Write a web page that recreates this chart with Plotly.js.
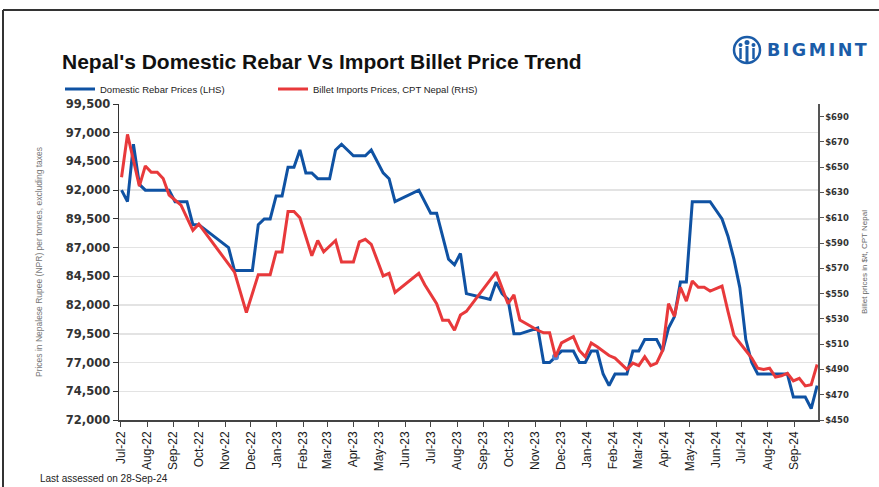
<!DOCTYPE html>
<html>
<head>
<meta charset="utf-8">
<script src="https://cdn.plot.ly/plotly-3.0.1.min.js"></script>
<style>
  html, body { margin: 0; padding: 0; background: #fff; }
  #chart { width: 879px; height: 487px; }
</style>
</head>
<body>
<div id="chart"></div>
<script>
// ---- Data (weekly assessments) ----
const rebarDates = [
  '2022-07-02','2022-07-09','2022-07-16','2022-07-23','2022-07-30','2022-08-27','2022-09-03','2022-09-17','2022-09-24','2022-10-01',
  '2022-11-05','2022-11-12','2022-12-03','2022-12-10','2022-12-17','2022-12-24','2022-12-31','2023-01-07','2023-01-14','2023-01-21',
  '2023-01-28','2023-02-04','2023-02-11','2023-02-18','2023-03-04','2023-03-11','2023-03-18','2023-04-01','2023-04-15','2023-04-22',
  '2023-05-06','2023-05-13','2023-05-20','2023-06-17','2023-07-01','2023-07-08','2023-07-22','2023-07-29','2023-08-05','2023-08-12',
  '2023-08-26','2023-09-09','2023-09-16','2023-09-23','2023-09-30','2023-10-07','2023-10-14','2023-11-04','2023-11-11','2023-11-18',
  '2023-11-25','2023-12-02','2023-12-16','2023-12-23','2023-12-30','2024-01-06','2024-01-13','2024-01-20','2024-01-27','2024-02-03',
  '2024-02-17','2024-02-24','2024-03-02','2024-03-09','2024-03-23','2024-03-30','2024-04-06','2024-04-13','2024-04-20','2024-04-27',
  '2024-05-04','2024-05-25','2024-06-08','2024-06-15','2024-06-22','2024-06-29','2024-07-06','2024-07-13','2024-07-20','2024-08-24',
  '2024-08-31','2024-09-14','2024-09-21','2024-09-28'
];
const rebarPrices = [
  92000,91000,96000,92500,92000,92000,91000,91000,89000,89000,
  87000,85000,85000,89000,89500,89500,91500,91500,94000,94000,
  95500,93500,93500,93000,93000,95500,96000,95000,95000,95500,
  93500,93000,91000,92000,90000,90000,86000,85500,86500,83000,
  82750,82500,84000,83000,82500,79500,79500,80000,77000,77000,
  77500,78000,78000,77000,77000,78000,78000,76000,75000,76000,
  76000,78000,78000,79000,79000,78000,80000,81000,84000,84000,
  91000,91000,89500,88000,86000,83500,79000,77000,76000,76000,
  74000,74000,73000,75000
];
const billetDates = [
  '2022-07-02','2022-07-09','2022-07-23','2022-07-30','2022-08-06','2022-08-13','2022-08-20','2022-08-27','2022-09-10','2022-09-24',
  '2022-10-01','2022-11-12','2022-11-26','2022-12-10','2022-12-24','2022-12-31','2023-01-07','2023-01-14','2023-01-21','2023-01-28',
  '2023-02-11','2023-02-18','2023-02-25','2023-03-11','2023-03-18','2023-04-01','2023-04-08','2023-04-15','2023-04-22','2023-05-06',
  '2023-05-13','2023-05-20','2023-06-17','2023-06-24','2023-07-08','2023-07-15','2023-07-22','2023-07-29','2023-08-05','2023-08-12',
  '2023-09-16','2023-09-30','2023-10-07','2023-10-14','2023-11-04','2023-11-11','2023-11-18','2023-11-25','2023-12-02','2023-12-16',
  '2023-12-23','2023-12-30','2024-01-06','2024-01-13','2024-01-27','2024-02-03','2024-02-17','2024-02-24','2024-03-02','2024-03-09',
  '2024-03-16','2024-03-23','2024-03-30','2024-04-06','2024-04-13','2024-04-20','2024-04-27','2024-05-04','2024-05-11','2024-05-18',
  '2024-05-25','2024-06-08','2024-06-15','2024-06-22','2024-07-06','2024-07-13','2024-07-20','2024-07-27','2024-08-03','2024-08-10',
  '2024-08-17','2024-08-24','2024-08-31','2024-09-07','2024-09-14','2024-09-21','2024-09-28'
];
const billetPrices = [
  642,676,635,651,646,646,641,628,620,600,
  605,567,535,565,565,583,583,615,615,610,
  580,592,583,592,575,575,591,593,589,564,
  566,551,566,557,542,529,529,521,533,536,
  567,542,549,529,521,519,519,500,511,516,
  505,500,511,508,501,499,490,495,493,500,
  493,495,505,542,532,555,544,560,555,555,
  552,556,536,517,505,499,491,490,491,484,
  485,487,481,483,477,478,494
];
const seriesNames = ['Domestic Rebar Prices (LHS)', 'Billet Imports Prices, CPT Nepal (RHS)'];
const highlightDate = '2023-11-25';

// ---- Layout helpers (pixel -> paper) ----
const L = 119, T = 104, W = 699, H = 316;
const px = p => (p - L) / W;
const py = q => (T + H - q) / H;

const BLUE = '#0f52a3', RED = '#e8393b', LOGO = '#1b5ca8';
const hi = rebarDates.indexOf(highlightDate);

const traces = [
  { x: rebarDates, y: rebarPrices, name: seriesNames[0], type: 'scatter', mode: 'lines',
    line: { color: BLUE, width: 3 }, yaxis: 'y' },
  { x: billetDates, y: billetPrices, name: seriesNames[1], type: 'scatter', mode: 'lines',
    line: { color: RED, width: 3 }, yaxis: 'y2' },
  { x: [rebarDates[hi]], y: [rebarPrices[hi]], type: 'scatter', mode: 'markers', showlegend: false,
    marker: { color: '#4f82d3', size: 7 }, yaxis: 'y', hoverinfo: 'skip' }
];

const layout = {
  width: 879, height: 487, autosize: false,
  margin: { l: L, r: 879 - L - W, t: T, b: 487 - T - H, pad: 0 },
  paper_bgcolor: '#ffffff', plot_bgcolor: '#ffffff',
  title: {
    text: "<b>Nepal's Domestic Rebar Vs Import Billet Price Trend</b>",
    font: { family: 'Liberation Sans, Arial, sans-serif', size: 21, color: '#111' },
    xref: 'container', yref: 'container', x: 62 / 879, xanchor: 'left',
    y: 1 - 62 / 487, yanchor: 'middle'
  },
  showlegend: true,
  legend: {
    orientation: 'h', x: px(60), xanchor: 'left', y: py(89), yanchor: 'middle',
    font: { family: 'Liberation Sans, Arial, sans-serif', size: 9.5, color: '#222' },
    bgcolor: 'rgba(0,0,0,0)', itemwidth: 30, entrywidth: 168, traceorder: 'normal'
  },
  xaxis: {
    type: 'date', range: ['2022-06-29', '2024-09-29'],
    tickmode: 'linear', tick0: '2022-07-01', dtick: 'M1', tickformat: '%b-%y',
    tickangle: -90, ticks: 'outside', ticklen: 5, tickcolor: '#444', tickwidth: 1,
    showline: true, linecolor: '#444', linewidth: 1.5, showgrid: false, zeroline: false,
    tickfont: { family: 'Liberation Sans, Arial, sans-serif', size: 12, color: '#1a1a1a' }
  },
  yaxis: {
    range: [72000, 99500], tickmode: 'linear', tick0: 72000, dtick: 2500, tickformat: ',d',
    ticks: 'outside', ticklen: 5, tickcolor: '#333',
    showline: true, linecolor: '#333', linewidth: 1.5,
    showgrid: true, gridcolor: '#e3e3e3', gridwidth: 1.5, zeroline: false,
    tickfont: { family: 'DejaVu Sans, sans-serif', size: 11.5, color: '#333', weight: 'bold' },
    title: { text: 'Prices in Nepalese Rupee (NPR) per tonnes, excluding taxes',
             font: { family: 'Liberation Sans, Arial, sans-serif', size: 8.5, color: '#777' },
             standoff: 22 }
  },
  yaxis2: {
    overlaying: 'y', side: 'right', range: [450, 700], tickmode: 'linear', tick0: 450, dtick: 20,
    tickprefix: '$', ticks: 'outside', ticklen: 4, tickcolor: '#555',
    showline: true, linecolor: '#555', linewidth: 1.5, showgrid: false, zeroline: false,
    tickfont: { family: 'DejaVu Sans, sans-serif', size: 8.5, color: '#333', weight: 'bold' },
    title: { text: 'Billet prices in $/t, CPT Nepal',
             font: { family: 'Liberation Sans, Arial, sans-serif', size: 8, color: '#666' },
             standoff: 13 }
  },
  shapes: [
    // outer frame (top and left edges)
    { type: 'line', xref: 'paper', yref: 'paper', x0: px(3), x1: px(880), y0: py(10), y1: py(10),
      line: { color: '#333', width: 2 } },
    { type: 'line', xref: 'paper', yref: 'paper', x0: px(3), x1: px(3), y0: py(10), y1: py(488),
      line: { color: '#333', width: 2 } },
    // logo icon
    { type: 'circle', xref: 'paper', yref: 'paper', x0: px(734), x1: px(760), y0: py(63), y1: py(37),
      line: { color: LOGO, width: 2.5 } },
    { type: 'circle', xref: 'paper', yref: 'paper', x0: px(744.5), x1: px(749.5), y0: py(45), y1: py(40),
      fillcolor: LOGO, line: { width: 0 } },
    { type: 'circle', xref: 'paper', yref: 'paper', x0: px(738.5), x1: px(742.5), y0: py(47), y1: py(43),
      fillcolor: LOGO, line: { width: 0 } },
    { type: 'circle', xref: 'paper', yref: 'paper', x0: px(751.5), x1: px(755.5), y0: py(47), y1: py(43),
      fillcolor: LOGO, line: { width: 0 } },
    { type: 'line', xref: 'paper', yref: 'paper', x0: px(747), x1: px(747), y0: py(46), y1: py(62),
      line: { color: LOGO, width: 3 } },
    { type: 'line', xref: 'paper', yref: 'paper', x0: px(740.5), x1: px(740.5), y0: py(48), y1: py(59),
      line: { color: LOGO, width: 2.5 } },
    { type: 'line', xref: 'paper', yref: 'paper', x0: px(753.5), x1: px(753.5), y0: py(48), y1: py(59),
      line: { color: LOGO, width: 2.5 } }
  ],
  annotations: [
    { xref: 'paper', yref: 'paper', x: px(765), y: py(50), xanchor: 'left', yanchor: 'middle',
      text: '<b><span style="letter-spacing:2.5px">BIGMINT</span></b>', showarrow: false,
      font: { family: 'DejaVu Sans, sans-serif', size: 17.5, color: LOGO } },
    { xref: 'paper', yref: 'paper', x: px(38), y: py(478), xanchor: 'left', yanchor: 'middle',
      text: 'Last assessed on 28-Sep-24', showarrow: false,
      font: { family: 'Liberation Sans, Arial, sans-serif', size: 10, color: '#222' } }
  ]
};

Plotly.newPlot('chart', traces, layout, { staticPlot: true, displayModeBar: false });
</script>
</body>
</html>
